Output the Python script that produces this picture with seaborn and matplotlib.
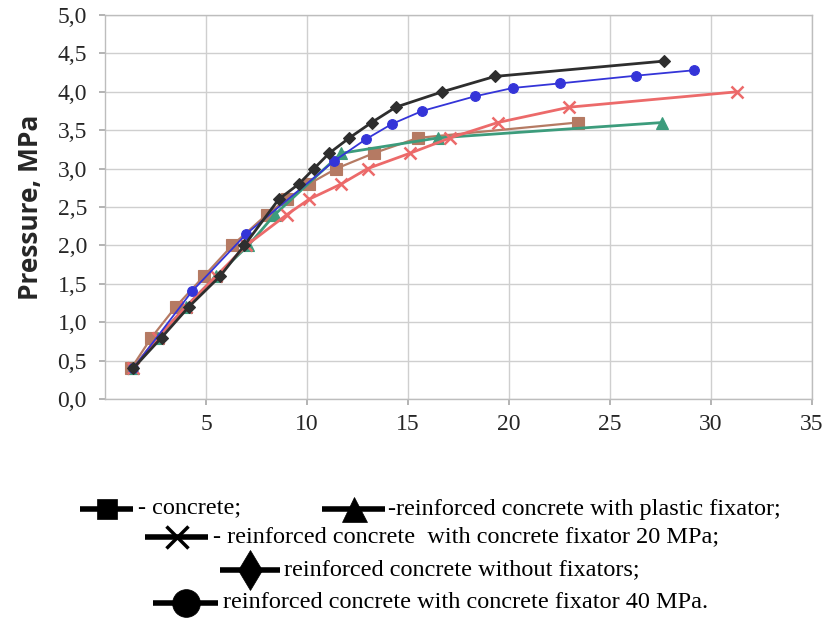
import matplotlib
matplotlib.use("Agg")
import matplotlib.pyplot as plt
import seaborn as sns
import numpy as np
import pandas as pd

# --- data (x: displacement, y: pressure in MPa) ---
concrete_x = [1.3, 2.3, 3.5, 4.9, 6.3, 8.0, 9.0, 10.1, 11.45, 13.3, 15.5, 23.4]
concrete_y = [0.4, 0.8, 1.2, 1.6, 2.0, 2.4, 2.6, 2.8, 3.0, 3.2, 3.4, 3.6]

plastic_x = [1.4, 2.6, 4.0, 5.5, 7.1, 8.4, 11.7, 16.5, 27.6]
plastic_y = [0.4, 0.8, 1.2, 1.6, 2.0, 2.4, 3.2, 3.4, 3.6]

fix20_x = [1.4, 2.6, 4.0, 5.5, 7.0, 9.0, 10.1, 11.7, 13.0, 15.1, 17.1, 19.45, 23.0, 31.3]
fix20_y = [0.4, 0.8, 1.2, 1.6, 2.0, 2.4, 2.6, 2.8, 3.0, 3.2, 3.4, 3.6, 3.8, 4.0]

nofix_x = [1.4, 2.8, 4.15, 5.7, 6.9, 8.6, 9.6, 10.35, 11.1, 12.1, 13.2, 14.4, 16.7, 19.3, 27.7]
nofix_y = [0.4, 0.8, 1.2, 1.6, 2.0, 2.6, 2.8, 3.0, 3.2, 3.4, 3.6, 3.8, 4.0, 4.2, 4.4]

fix40_x = [1.4, 4.3, 7.0, 11.35, 12.9, 14.2, 15.7, 18.3, 20.2, 22.55, 26.3, 29.15]
fix40_y = [0.4, 1.4, 2.15, 3.1, 3.38, 3.58, 3.75, 3.94, 4.05, 4.11, 4.21, 4.28]

legend_labels = [
    "- concrete;",
    "-reinforced concrete with plastic fixator;",
    "- reinforced concrete  with concrete fixator 20 MPa;",
    "reinforced concrete without fixators;",
    "reinforced concrete with concrete fixator 40 MPa.",
]

sns.set_theme(style="whitegrid")
plt.rcParams['font.family'] = ['Liberation Serif', 'DejaVu Serif']

fig = plt.figure(figsize=(8.36, 6.22), dpi=100)
ax = fig.add_axes([0.1256, 0.3585, 0.8455, 0.6174])

# draw order: brown, green, red, blue, black on top
series = [
    (concrete_x, concrete_y, "#b57a63", "s", 8, 1.6),
    (plastic_x, plastic_y, "#3c9c7c", "^", 8, 2.0),
    (fix20_x, fix20_y, "#ec6a6a", "x", 9, 2.0),
    (fix40_x, fix40_y, "#3434d8", "o", 7, 1.3),
    (nofix_x, nofix_y, "#2e2e2e", "D", 6, 2.0),
]
for xs, ys, col, mk, ms, lw in series:
    df = pd.DataFrame({"x": xs, "p": ys})
    sns.lineplot(data=df, x="x", y="p", ax=ax, color=col, marker=mk,
                 markersize=ms, markeredgecolor=col, markeredgewidth=1.8 if mk == "x" else 0.8,
                 linewidth=lw, sort=False, legend=False)

ax.set_xlim(0, 35)
ax.set_ylim(0, 5)
ax.set_xticks([5, 10, 15, 20, 25, 30, 35])
ax.set_yticks(np.arange(0, 5.01, 0.5))
ax.set_yticklabels([f"{v:.1f}".replace(".", ",") for v in np.arange(0, 5.01, 0.5)])
ax.set_xlabel("")
ax.set_ylabel("Pressure, MPa", fontsize=19, fontweight="bold",
              family=["Open Sans", "DejaVu Sans"], labelpad=10)
ax.tick_params(axis="both", labelsize=17, length=4, color="#aaaaaa",
               direction="out", bottom=True, left=True)
ax.tick_params(axis="y", pad=9)
ax.tick_params(axis="x", pad=7)
ax.grid(True, color="#cfcfcf", linewidth=1.0)
for s in ax.spines.values():
    s.set_color("#bdbdbd")
    s.set_linewidth(1.0)

# --- hand-drawn legend below the plot, in pixel coordinates ---
lax = fig.add_axes([0, 0, 1, 1], zorder=-1)
lax.set_xlim(0, 836)
lax.set_ylim(622, 0)
lax.axis("off")
lax.patch.set_alpha(0)

legend_rows = [
    (80, 133, 509, "s", 15, 138, legend_labels[0]),
    (322, 385, 509, "^", 18, 388, legend_labels[1]),
    (145, 208, 537, "x", 16, 213, legend_labels[2]),
    (220, 280, 570, "d", 20, 284, legend_labels[3]),
    (153, 218, 603, "o", 20, 223, legend_labels[4]),
]
for x0, x1, y, mk, ms, tx, label in legend_rows:
    lax.plot([x0, x1], [y, y], color="black", linewidth=4, solid_capstyle="butt")
    lax.plot([(x0 + x1) / 2], [y], marker=mk, markersize=ms, color="black",
             markeredgewidth=2.5 if mk == "x" else 0.5, linestyle="none")
    lax.text(tx, y, label, fontsize=17.5, va="center", ha="left", color="black")

fig.savefig("out.png", dpi=100)
